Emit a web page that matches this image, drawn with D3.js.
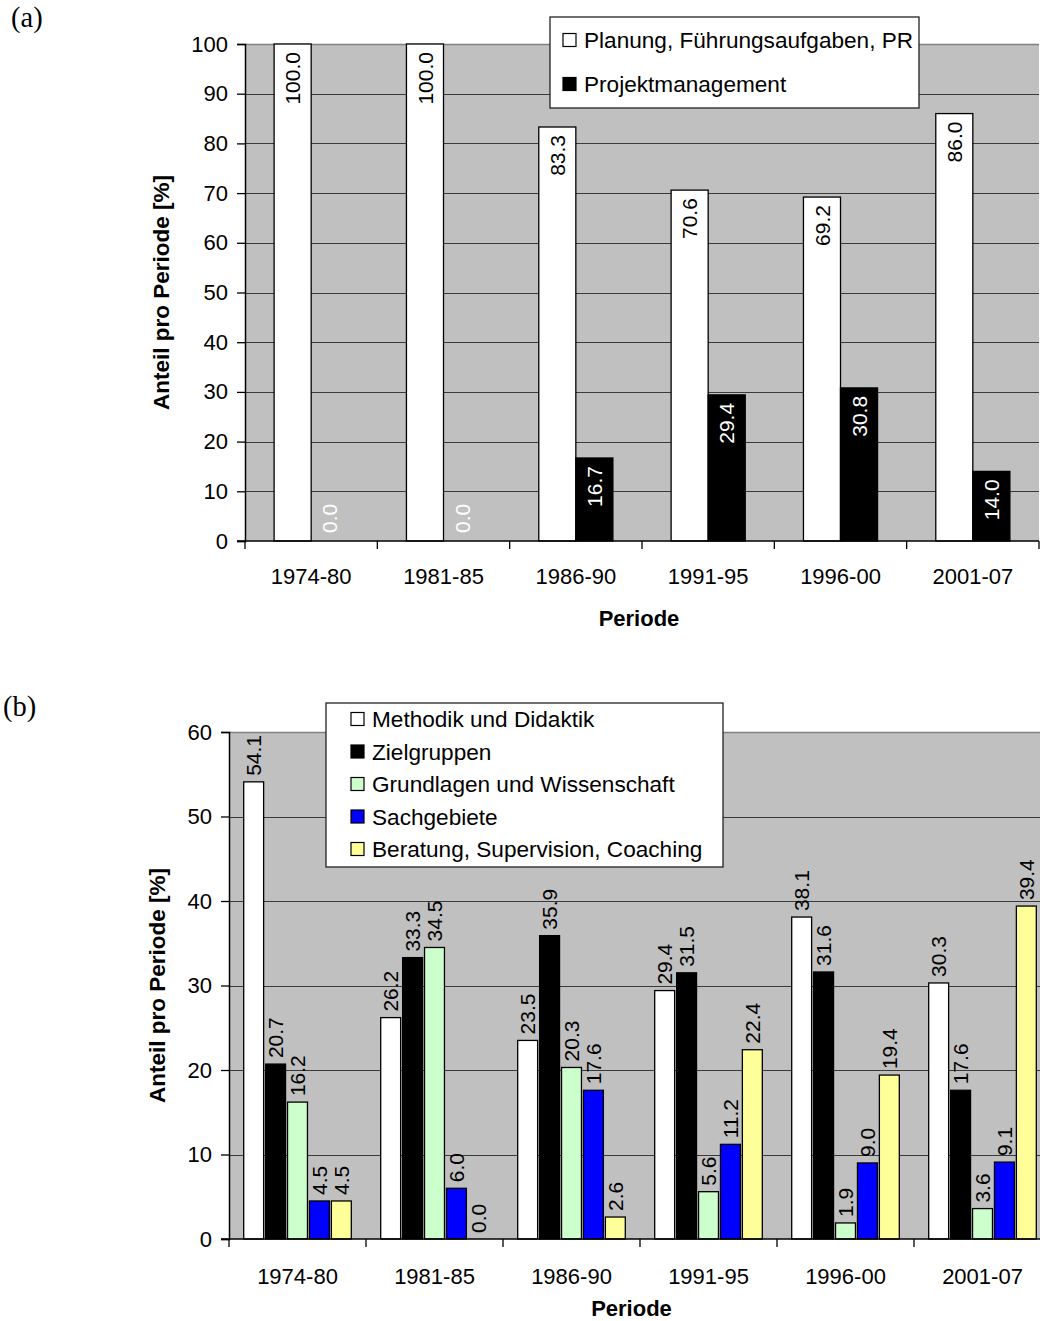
<!DOCTYPE html>
<html>
<head>
<meta charset="utf-8">
<script src="https://cdn.jsdelivr.net/npm/d3@7"></script>
<style>
  body { margin: 0; background: #fff; }
  svg { display: block; }
  text { font-family: "Liberation Sans", Arial, sans-serif; }
</style>
</head>
<body>
<div id="chart"></div>
<script>
// categories
const periods = ["1974-80", "1981-85", "1986-90", "1991-95", "1996-00", "2001-07"];

// chart (a)
const seriesA = ["Planung, Führungsaufgaben, PR", "Projektmanagement"];
const planung = [100.0, 100.0, 83.3, 70.6, 69.2, 86.0];
const projektmanagement = [0.0, 0.0, 16.7, 29.4, 30.8, 14.0];
const ticksA = [0, 10, 20, 30, 40, 50, 60, 70, 80, 90, 100];

// chart (b)
const seriesB = ["Methodik und Didaktik", "Zielgruppen", "Grundlagen und Wissenschaft", "Sachgebiete", "Beratung, Supervision, Coaching"];
const methodik = [54.1, 26.2, 23.5, 29.4, 38.1, 30.3];
const zielgruppen = [20.7, 33.3, 35.9, 31.5, 31.6, 17.6];
const grundlagen = [16.2, 34.5, 20.3, 5.6, 1.9, 3.6];
const sachgebiete = [4.5, 6.0, 17.6, 11.2, 9.0, 9.1];
const beratung = [4.5, 0.0, 2.6, 22.4, 19.4, 39.4];
const ticksB = [0, 10, 20, 30, 40, 50, 60];

const svg = d3.select("#chart").append("svg")
  .attr("width", 1040)
  .attr("height", 1321);

function drawPanel(o) {
  const g = svg.append("g");
  const x = d3.scaleBand().domain(periods).range([o.left, o.right]);
  const y = d3.scaleLinear().domain([0, o.yMax]).range([o.bottom, o.top]);
  const bw = x.bandwidth();
  const x1 = d3.scaleBand()
    .domain(o.series.map(s => s.name))
    .range([bw * o.inner, bw * (1 - o.inner)]);

  // plot area
  g.append("rect")
    .attr("x", o.left).attr("y", o.top)
    .attr("width", o.right - o.left).attr("height", o.bottom - o.top)
    .attr("fill", "#c0c0c0");
  g.append("line")
    .attr("x1", o.left).attr("x2", o.right)
    .attr("y1", o.top + 0.5).attr("y2", o.top + 0.5)
    .attr("stroke", "#808080").attr("stroke-width", 1.5);

  // gridlines
  g.append("g").selectAll("line")
    .data(o.ticks.filter(t => t > 0 && t < o.yMax))
    .enter().append("line")
    .attr("x1", o.left).attr("x2", o.right)
    .attr("y1", d => Math.round(y(d)) + 0.5).attr("y2", d => Math.round(y(d)) + 0.5)
    .attr("stroke", "#3a3a3a").attr("stroke-width", 1.2);

  // bars
  const rows = [];
  o.series.forEach(s => {
    s.values.forEach((v, i) => rows.push({ name: s.name, fill: s.fill, label: s.label, period: periods[i], value: v }));
  });
  const barX = d => x(d.period) + x1(d.name) + o.gap / 2;
  const barW = x1.bandwidth() - o.gap;

  g.append("g").selectAll("rect")
    .data(rows.filter(d => d.value > 0))
    .enter().append("rect")
    .attr("x", barX)
    .attr("y", d => y(d.value))
    .attr("width", barW)
    .attr("height", d => y(0) - y(d.value))
    .attr("fill", d => d.fill)
    .attr("stroke", "#000")
    .attr("stroke-width", 1.3);

  // value labels (rotated)
  g.append("g").selectAll("text")
    .data(rows)
    .enter().append("text")
    .attr("transform", d => {
      const cx = barX(d) + barW / 2;
      let yy;
      if (o.labelMode === "inside" && d.value > 0) yy = y(d.value) + 8;
      else yy = y(d.value) - (o.labelMode === "inside" ? 8 : 6);
      return `translate(${cx},${yy}) rotate(-90)`;
    })
    .attr("dy", "0.36em")
    .attr("text-anchor", d => (o.labelMode === "inside" && d.value > 0) ? "end" : "start")
    .attr("font-size", 21)
    .attr("fill", d => {
      if (o.labelMode === "inside") return d.value === 0 ? "#fff" : d.label;
      return "#000";
    })
    .text(d => d3.format(".1f")(d.value));

  // y axis
  const yAxis = g.append("g")
    .attr("transform", `translate(${o.left},0)`)
    .call(d3.axisLeft(y).tickValues(o.ticks).tickSize(8).tickPadding(9).tickFormat(d3.format("d")));
  yAxis.selectAll("text").attr("font-size", 22).attr("font-family", "Liberation Sans, Arial, sans-serif").attr("fill", "#000");
  yAxis.selectAll("line").attr("stroke", "#000").attr("stroke-width", 1.3);
  yAxis.select(".domain").attr("stroke", "#000").attr("stroke-width", 1.5);

  // x axis line, boundary ticks, labels
  const xa = g.append("g");
  xa.append("line")
    .attr("x1", o.left - 8).attr("x2", o.right)
    .attr("y1", y(0)).attr("y2", y(0))
    .attr("stroke", "#000").attr("stroke-width", 1.5);
  xa.selectAll("line.tk")
    .data(periods.map(p => x(p)).concat([x.range()[1]]))
    .enter().append("line").attr("class", "tk")
    .attr("x1", d => d).attr("x2", d => d)
    .attr("y1", y(0)).attr("y2", y(0) + 8)
    .attr("stroke", "#000").attr("stroke-width", 1.3);
  xa.selectAll("text")
    .data(periods)
    .enter().append("text")
    .attr("x", d => x(d) + bw / 2)
    .attr("y", o.xLabelY)
    .attr("text-anchor", "middle")
    .attr("font-size", 22)
    .text(d => d);

  // axis titles
  g.append("text")
    .attr("x", (o.left + Math.min(o.right, 1040)) / 2 - 3)
    .attr("y", o.xTitleY)
    .attr("text-anchor", "middle")
    .attr("font-size", 22)
    .attr("font-weight", "bold")
    .text("Periode");
  g.append("text")
    .attr("transform", `translate(${o.yTitleX},${(o.top + o.bottom) / 2}) rotate(-90)`)
    .attr("dy", "0.36em")
    .attr("text-anchor", "middle")
    .attr("font-size", 22.5)
    .attr("font-weight", "bold")
    .text("Anteil pro Periode [%]");

  // panel label
  g.append("text")
    .attr("x", o.panelX).attr("y", o.panelY)
    .style("font-family", "'Liberation Serif', 'Times New Roman', serif")
    .attr("font-size", 28.5)
    .text(o.panel);

  // legend
  const L = o.legend;
  const lg = g.append("g");
  lg.append("rect")
    .attr("x", L.x).attr("y", L.y).attr("width", L.w).attr("height", L.h)
    .attr("fill", "#fff").attr("stroke", "#222").attr("stroke-width", 1.3);
  const item = lg.selectAll("g.item")
    .data(o.series)
    .enter().append("g").attr("class", "item")
    .attr("transform", (d, i) => `translate(${L.x + L.pad},${L.firstY + i * L.step})`);
  item.append("rect")
    .attr("x", 0).attr("y", -6.5).attr("width", 13).attr("height", 13)
    .attr("fill", d => d.fill).attr("stroke", "#000").attr("stroke-width", 1.2);
  item.append("text")
    .attr("x", 21).attr("dy", "0.36em")
    .attr("font-size", 22.6)
    .text(d => d.name);
}

drawPanel({
  panel: "(a)", panelX: 11, panelY: 27,
  left: 245, right: 1039, top: 44, bottom: 541,
  yMax: 100, ticks: ticksA, inner: 0.22, gap: 0,
  labelMode: "inside",
  series: [
    { name: seriesA[0], values: planung, fill: "#fff", label: "#000" },
    { name: seriesA[1], values: projektmanagement, fill: "#000", label: "#fff" }
  ],
  xLabelY: 584, xTitleY: 626, yTitleX: 161,
  legend: { x: 550, y: 17, w: 369, h: 91, pad: 13, firstY: 40, step: 44 }
});

drawPanel({
  panel: "(b)", panelX: 3, panelY: 716,
  left: 229, right: 1051, top: 732, bottom: 1239,
  yMax: 60, ticks: ticksB, inner: 0.1, gap: 2,
  labelMode: "outside",
  series: [
    { name: seriesB[0], values: methodik, fill: "#fff" },
    { name: seriesB[1], values: zielgruppen, fill: "#000" },
    { name: seriesB[2], values: grundlagen, fill: "#ccffcc" },
    { name: seriesB[3], values: sachgebiete, fill: "#0000ff" },
    { name: seriesB[4], values: beratung, fill: "#ffff99" }
  ],
  xLabelY: 1284, xTitleY: 1316, yTitleX: 157,
  legend: { x: 326, y: 703, w: 397, h: 164, pad: 25, firstY: 719, step: 32.5 }
});
</script>
</body>
</html>
